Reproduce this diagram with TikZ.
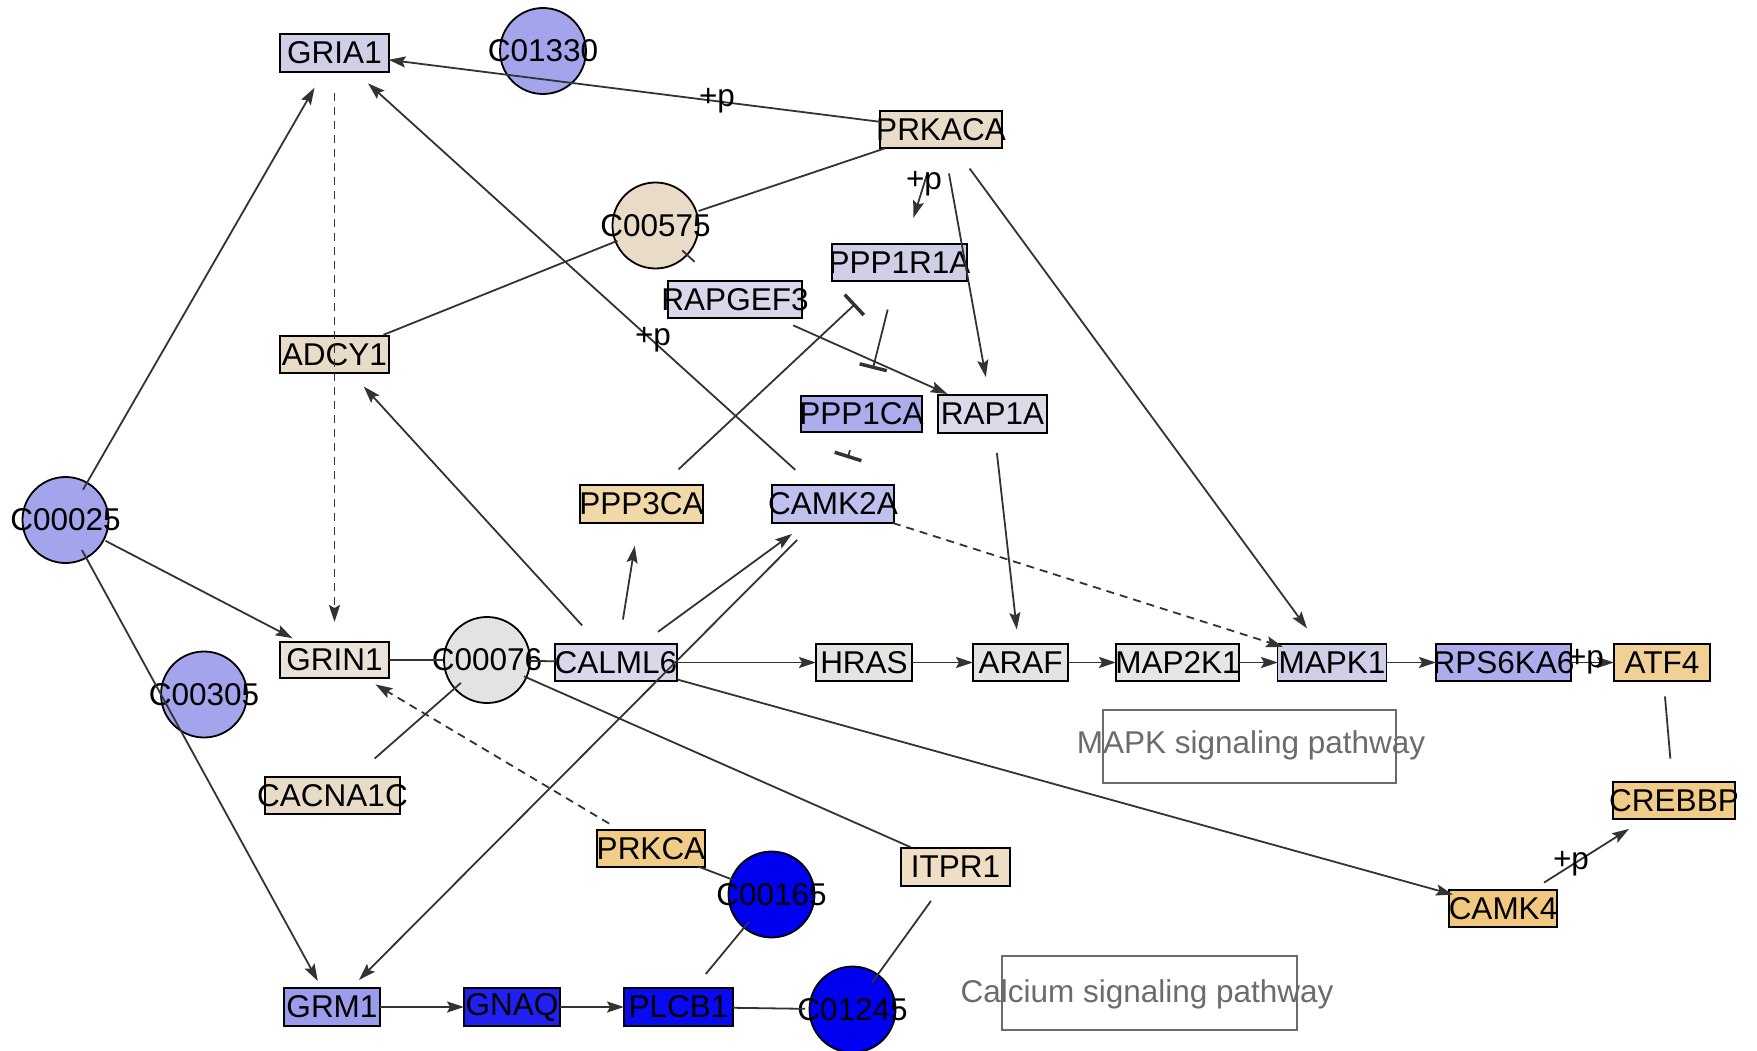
\documentclass[tikz,border=0pt]{standalone}
\usepackage{fontspec}
\setmainfont{Liberation Sans}
\usetikzlibrary{arrows.meta}
\newcommand\gfont{\fontsize{31.5}{31.5}\selectfont}
\definecolor{cLav}{RGB}{207,207,232}
\definecolor{cLav2}{RGB}{216,216,234}
\definecolor{cLav3}{RGB}{218,218,232}
\definecolor{cVio}{RGB}{164,164,236}
\definecolor{cVio2}{RGB}{173,173,238}
\definecolor{cVio3}{RGB}{192,192,238}
\definecolor{cVio4}{RGB}{156,156,236}
\definecolor{cBeige}{RGB}{232,220,200}
\definecolor{cBeige2}{RGB}{234,226,214}
\definecolor{cBeige3}{RGB}{238,223,196}
\definecolor{cGray}{RGB}{227,227,230}
\definecolor{cGray2}{RGB}{230,228,224}
\definecolor{cGray3}{RGB}{229,228,226}
\definecolor{cGray4}{RGB}{230,230,230}
\definecolor{cOr1}{RGB}{240,208,149}
\definecolor{cOr2}{RGB}{240,204,136}
\definecolor{cOr3}{RGB}{240,200,128}
\definecolor{cOr4}{RGB}{240,216,168}
\definecolor{cBlue}{RGB}{0,0,240}
\definecolor{cBlue2}{RGB}{32,32,240}
\definecolor{cBlue3}{RGB}{10,10,240}
\definecolor{edgecol}{RGB}{51,51,51}
\definecolor{pathcol}{RGB}{107,107,107}
\tikzset{
  box/.style={draw=black, line width=1.8pt, rectangle, inner sep=0pt},
  cpd/.style={draw=black, line width=1.8pt, circle, minimum size=86pt, inner sep=0pt},
  txt/.style={font=\gfont, text=black, inner sep=0pt},
  plabel/.style={font=\gfont, text=black, inner sep=0pt},
  edge/.style={draw=edgecol, line width=1.8pt},
  arr/.style={edge, -{Stealth[length=17pt,width=11pt,inset=3pt]}},
  inh/.style={edge, -{Bar[width=28pt,line width=3.5pt]}},
  dashedge/.style={dash pattern=on 8pt off 6pt},
  pathbox/.style={draw=pathcol, line width=1.5pt, rectangle, inner sep=0pt},
  pathtxt/.style={font=\gfont, text=pathcol, inner sep=0pt, anchor=base}
}
\begin{document}
\begin{tikzpicture}[x=1pt,y=-1pt]
\useasboundingbox (0,0) rectangle (1757,1051);
% pathway boxes
\node[pathbox, minimum width=293pt, minimum height=73pt] (mapkbox) at (1249.5,746.5) {};
\node[pathtxt] (mapktxt) at (1251,753) {MAPK signaling pathway};
\node[pathbox, minimum width=295pt, minimum height=74pt] (calbox) at (1149.5,993) {};
\node[pathtxt] (caltxt) at (1147,1002) {Calcium signaling pathway};
% genes
\node[box, fill=cLav, minimum width=109pt, minimum height=38pt, label={[txt]center:GRIA1}] (gria1) at (334.5,53) {};
\node[box, fill=cBeige, minimum width=122pt, minimum height=37pt, label={[txt]center:PRKACA}] (prkaca) at (941,129.5) {};
\node[box, fill=cLav, minimum width=135pt, minimum height=37pt, label={[txt]center:PPP1R1A}] (ppp1r1a) at (899.5,262.5) {};
\node[box, fill=cLav2, minimum width=134pt, minimum height=37pt, label={[txt]center:RAPGEF3}] (rapgef3) at (735,299.5) {};
\node[box, fill=cVio2, minimum width=121pt, minimum height=36pt, label={[txt]center:PPP1CA}] (ppp1ca) at (861.5,414) {};
\node[box, fill=cLav3, minimum width=109pt, minimum height=38pt, label={[txt]center:RAP1A}] (rap1a) at (992.5,414) {};
\node[box, fill=cBeige, minimum width=109pt, minimum height=37pt, label={[txt]center:ADCY1}] (adcy1) at (334.5,354.5) {};
\node[box, fill=cBeige2, minimum width=109pt, minimum height=36pt, label={[txt]center:GRIN1}] (grin1) at (334.5,660) {};
\node[box, fill=cLav2, minimum width=122pt, minimum height=37pt, label={[txt]center:CALML6}] (calml6) at (616,662.5) {};
\node[box, fill=cGray2, minimum width=96pt, minimum height=37pt, label={[txt]center:HRAS}] (hras) at (864,662.5) {};
\node[box, fill=cGray3, minimum width=95pt, minimum height=37pt, label={[txt]center:ARAF}] (araf) at (1020.5,662.5) {};
\node[box, fill=cGray4, minimum width=123pt, minimum height=37pt, label={[txt]center:MAP2K1}] (map2k1) at (1177.5,662.5) {};
\node[box, fill=cLav, minimum width=109pt, minimum height=37pt, label={[txt]center:MAPK1}] (mapk1) at (1332,662.5) {};
\node[box, fill=cVio2, minimum width=135pt, minimum height=37pt, label={[txt]center:RPS6KA6}] (rps6ka6) at (1503.5,662.5) {};
\node[box, fill=cOr1, minimum width=96pt, minimum height=37pt, label={[txt]center:ATF4}] (atf4) at (1662,662.5) {};
\node[box, fill=cOr2, minimum width=122pt, minimum height=37pt, label={[txt]center:CREBBP}] (crebbp) at (1674,800.5) {};
\node[box, fill=cOr3, minimum width=108pt, minimum height=37pt, label={[txt]center:CAMK4}] (camk4) at (1503,908.5) {};
\node[box, fill=cOr4, minimum width=123pt, minimum height=38pt, label={[txt]center:PPP3CA}] (ppp3ca) at (641.5,504) {};
\node[box, fill=cVio3, minimum width=122pt, minimum height=38pt, label={[txt]center:CAMK2A}] (camk2a) at (833,504) {};
\node[box, fill=cBeige, minimum width=135pt, minimum height=37pt, label={[txt]center:CACNA1C}] (cacna1c) at (332.5,795.5) {};
\node[box, fill=cOr2, minimum width=108pt, minimum height=37pt, label={[txt]center:PRKCA}] (prkca) at (651,848.5) {};
\node[box, fill=cBeige3, minimum width=109pt, minimum height=38pt, label={[txt]center:ITPR1}] (itpr1) at (955.5,867) {};
\node[box, fill=cVio4, minimum width=96pt, minimum height=38pt, label={[txt]center:GRM1}] (grm1) at (332,1007) {};
\node[box, fill=cBlue2, minimum width=96pt, minimum height=38pt, label={[txt]center:GNAQ}] (gnaq) at (512,1007) {};
\node[box, fill=cBlue3, minimum width=109pt, minimum height=38pt, label={[txt]center:PLCB1}] (plcb1) at (678.5,1007) {};
% compounds
\node[cpd, fill=cVio, label={[txt]center:C01330}] (c01330) at (543,51) {};
\node[cpd, fill=cBeige, label={[txt]center:C00575}] (c00575) at (655.5,225.5) {};
\node[cpd, fill=cVio, label={[txt]center:C00025}] (c00025) at (65.5,520) {};
\node[cpd, fill=cVio, label={[txt]center:C00305}] (c00305) at (204,694.5) {};
\node[cpd, fill=cGray, label={[txt]center:C00076}] (c00076) at (487,660) {};
\node[cpd, fill=cBlue, label={[txt]center:C00165}] (c00165) at (771.5,894.5) {};
\node[cpd, fill=cBlue, label={[txt]center:C01245}] (c01245) at (852.5,1009.5) {};
% edges
\draw[arr, shorten <=61.5pt, shorten >=54.5pt] (prkaca.center) -- (gria1.center);
\node[plabel] (plab1) at (717,100.5) {+p};
\draw[edge, shorten <=41pt, shorten >=52.8pt] (c00575.center) -- (adcy1.center);
\draw[edge, shorten <=45.4pt, shorten >=59.1pt] (c00575.center) -- (prkaca.center);
\draw[edge, shorten <=36.5pt, shorten >=55.2pt] (c00575.center) -- (rapgef3.center);
\draw[arr, shorten <=35pt, shorten >=40pt] (c00025.center) -- (gria1.center);
\draw[arr, dashedge, shorten <=40pt, shorten >=38pt] (gria1.center) -- (grin1.center);
\draw[arr, shorten <=50.9pt, shorten >=45.3pt] (camk2a.center) -- (gria1.center);
\node[plabel] (plab2) at (653,339.5) {+p};
\draw[arr, shorten <=44.9pt, shorten >=46.8pt] (prkaca.center) -- (ppp1r1a.center);
\node[plabel] (plab3) at (924,184) {+p};
\draw[arr, shorten <=44.7pt, shorten >=37.5pt] (prkaca.center) -- (rap1a.center);
\draw[arr, shorten <=48.4pt, shorten >=42.2pt] (prkaca.center) -- (mapk1.center);
\draw[arr, dashedge, shorten <=62.9pt, shorten >=51.4pt] (camk2a.center) -- (mapk1.center);
\draw[inh, shorten <=50.6pt, shorten >=60.2pt] (ppp3ca.center) -- (ppp1r1a.center);
\draw[inh, shorten <=48.5pt, shorten >=46.4pt] (ppp1r1a.center) -- (ppp1ca.center);
\draw[inh, shorten <=38pt, shorten >=48.1pt] (ppp1ca.center) -- (camk2a.center);
\draw[arr, shorten <=63.6pt, shorten >=49.3pt] (rapgef3.center) -- (rap1a.center);
\draw[arr, shorten <=39.2pt, shorten >=33.2pt] (rap1a.center) -- (araf.center);
\draw[arr, shorten <=50.2pt, shorten >=43.4pt] (calml6.center) -- (adcy1.center);
\draw[arr, shorten <=43.5pt, shorten >=42.5pt] (calml6.center) -- (ppp3ca.center);
\draw[arr, shorten <=52pt, shorten >=50.7pt] (calml6.center) -- (camk2a.center);
\draw[arr, shorten <=50.8pt, shorten >=38.2pt] (camk2a.center) -- (grm1.center);
\draw[arr, shorten <=45.1pt, shorten >=47.3pt] (c00025.center) -- (grin1.center);
\draw[arr, shorten <=34.2pt, shorten >=29.6pt] (c00025.center) -- (grm1.center);
\draw[edge, shorten <=54.5pt, shorten >=44pt] (grin1.center) -- (c00076.center);
\draw[edge, shorten <=42pt, shorten >=61pt] (c00076.center) -- (calml6.center);
\draw[edge, shorten <=56pt, shorten >=34.7pt] (cacna1c.center) -- (c00076.center);
\draw[edge, shorten <=40.4pt, shorten >=49.2pt] (c00076.center) -- (itpr1.center);
\draw[edge, shorten <=41.9pt, shorten >=33.2pt] (itpr1.center) -- (c01245.center);
\draw[edge, shorten <=54.5pt, shorten >=47.5pt] (plcb1.center) -- (c01245.center);
\draw[edge, shorten <=42.9pt, shorten >=35.1pt] (plcb1.center) -- (c00165.center);
\draw[edge, shorten <=50.3pt, shorten >=41.7pt] (prkca.center) -- (c00165.center);
\draw[arr, dashedge, shorten <=48.8pt, shorten >=47.7pt] (prkca.center) -- (grin1.center);
\draw[arr, shorten <=48pt, shorten >=48pt] (grm1.center) -- (gnaq.center);
\draw[arr, shorten <=48pt, shorten >=54.5pt] (gnaq.center) -- (plcb1.center);
\draw[arr, shorten <=61pt, shorten >=48pt] (calml6.center) -- (hras.center);
\draw[arr, shorten <=48pt, shorten >=47.5pt] (hras.center) -- (araf.center);
\draw[arr, shorten <=47.5pt, shorten >=61.5pt] (araf.center) -- (map2k1.center);
\draw[arr, shorten <=61.5pt, shorten >=54pt] (map2k1.center) -- (mapk1.center);
\draw[arr, shorten <=54pt, shorten >=67.5pt] (mapk1.center) -- (rps6ka6.center);
\draw[arr, shorten <=67.5pt, shorten >=48pt] (rps6ka6.center) -- (atf4.center);
\node[plabel] (plab4) at (1586,662) {+p};
\draw[arr, shorten <=63.3pt, shorten >=51.9pt] (calml6.center) -- (camk4.center);
\draw[arr, shorten <=48.5pt, shorten >=53.2pt] (camk4.center) -- (crebbp.center);
\node[plabel] (plab5) at (1571,864) {+p};
\draw[edge, shorten <=34.1pt, shorten >=42.1pt] (atf4.center) -- (crebbp.center);
\end{tikzpicture}
\end{document}
